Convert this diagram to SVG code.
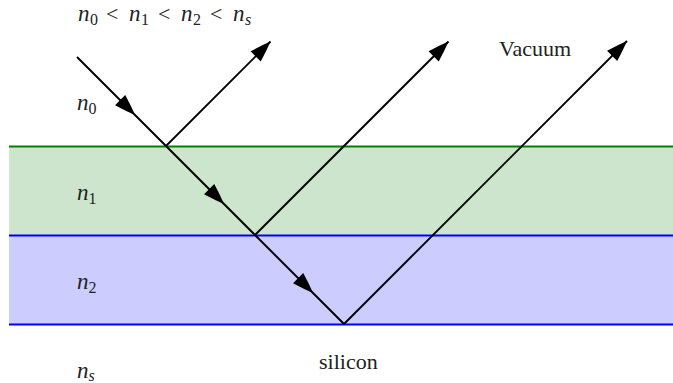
<svg xmlns="http://www.w3.org/2000/svg" width="673" height="383" viewBox="0 0 673 383">
<style>
.ray{stroke:#000;stroke-width:1.9;fill:none}
.t{font-family:"Liberation Serif","DejaVu Serif",serif;font-size:22px;fill:#222}
.m{font-family:"Liberation Serif","DejaVu Serif",serif;font-size:23px;font-style:italic;fill:#222}
.s{font-size:16px;font-style:normal}
.si{font-size:16px;font-style:italic}
.r{font-style:normal;font-size:22px}
</style>
<defs>
<marker id="ah" markerUnits="userSpaceOnUse" markerWidth="26" markerHeight="18" viewBox="-23 -9 26 18" refX="0" refY="0" orient="auto">
<path d="M0,0 Q-9,-3.6 -21,-7.2 L-21,7.2 Q-9,3.6 0,0 Z" fill="#000"/>
</marker>
</defs>
<rect x="0" y="0" width="673" height="383" fill="#fff"/>
<g id="layer1">
<rect x="9" y="146.5" width="664" height="89" fill="#cce5cc"/>
<line x1="9" y1="146.5" x2="673" y2="146.5" stroke="#008000" stroke-width="2"/>
</g>
<g id="layer2">
<rect x="9" y="235.5" width="664" height="89" fill="#ccccff"/>
<line x1="9" y1="235.5" x2="673" y2="235.5" stroke="#0000ff" stroke-width="2"/>
<line x1="9" y1="324.5" x2="673" y2="324.5" stroke="#0000ff" stroke-width="2"/>
</g>
<g id="connectors">
<path class="ray" d="M77,57 L135,115 L166,146" marker-mid="url(#ah)"/>
<path class="ray" d="M166,146 L224,204 L255,235" marker-mid="url(#ah)"/>
<path class="ray" d="M255,235 L313,293 L344,324" marker-mid="url(#ah)"/>
<path class="ray" d="M166,146 L270.5,41.5" marker-end="url(#ah)"/>
<path class="ray" d="M255,235 L448.5,41.5" marker-end="url(#ah)"/>
<path class="ray" d="M344,324 L627,41" marker-end="url(#ah)"/>
</g>
<g id="labels">
<text class="m" y="20.5"><tspan x="78">n</tspan><tspan class="s" x="90" dy="4">0</tspan><tspan class="r" x="106" dy="-4">&lt;</tspan><tspan x="129">n</tspan><tspan class="s" x="141" dy="4">1</tspan><tspan class="r" x="158" dy="-4">&lt;</tspan><tspan x="181">n</tspan><tspan class="s" x="193" dy="4">2</tspan><tspan class="r" x="210" dy="-4">&lt;</tspan><tspan x="233">n</tspan><tspan class="si" x="245" dy="4">s</tspan></text>
<text class="m" x="77" y="110">n<tspan class="s" dy="4">0</tspan></text>
<text class="m" x="77" y="200">n<tspan class="s" dy="4">1</tspan></text>
<text class="m" x="77" y="288.5">n<tspan class="s" dy="4">2</tspan></text>
<text class="m" x="77" y="378">n<tspan class="si" dy="3">s</tspan></text>
<text class="t" x="499" y="56">Vacuum</text>
<text class="t" x="319" y="369">silicon</text>
</g>
</svg>
